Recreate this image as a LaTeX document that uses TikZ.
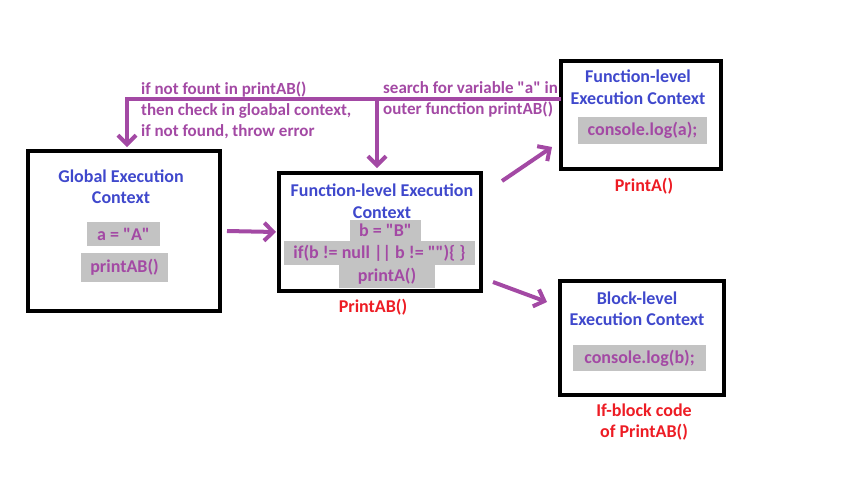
\documentclass[tikz,border=0pt]{standalone}
\usepackage{fontspec}
\newfontfamily\cf{Carlito}
\usetikzlibrary{arrows.meta,calc}
\definecolor{pp}{HTML}{A349A4}
\definecolor{bl}{HTML}{3F48CC}
\definecolor{rd}{HTML}{ED1C24}
\definecolor{gr}{HTML}{C3C3C3}
\begin{document}
\begin{tikzpicture}[x=1pt,y=-1pt,font=\cf\bfseries\fontsize{18}{21.5}\selectfont,
  ctx/.style={draw=black,line width=4.5pt,outer sep=0pt,inner sep=0pt},
  code/.style={fill=gr,text=pp,inner sep=0pt,outer sep=0pt},
  title/.style={text=bl,align=center,inner sep=0pt},
  lbl/.style={text=rd,align=center,inner sep=0pt},
  note/.style={text=pp,align=left,inner sep=0pt,anchor=west,font=\cf\bfseries\fontsize{17}{21}\selectfont},
  arr/.style={draw=pp,line width=4pt,-{Straight Barb[length=9pt,width=18pt]}}]
\useasboundingbox (0,0) rectangle (852,496);
% context boxes
\node[ctx,minimum width=192pt,minimum height=160pt] (glob) at (124,231) {};
\node[ctx,minimum width=202pt,minimum height=118pt] (mid) at (380,232) {};
\node[ctx,minimum width=160pt,minimum height=108pt] (tr) at (641,115) {};
\node[ctx,minimum width=164pt,minimum height=114pt] (br) at (642,338) {};
% titles
\node[title] (globt) at (121,186.5) {Global Execution\\Context};
\node[title] (midt) at (382,201) {Function-level Execution\\Context};
\node[title] (trt) at (638,87) {Function-level\\Execution Context};
\node[title] (brt) at (637,308.5) {Block-level\\Execution Context};
% code
\node[code,minimum width=73pt,minimum height=24pt] (ca) at (123.5,234) {a = "A"};
\node[code,minimum width=87pt,minimum height=29pt] (cpab) at (124.5,267.5) {printAB()};
\node[code,minimum width=71pt,minimum height=21pt] (cb) at (385.5,230.5) {b = "B"};
\node[code,minimum width=191pt,minimum height=24pt] (cif) at (379.5,253) {if(b != null || b != "")\{ \}};
\node[code,minimum width=96pt,minimum height=23pt] (cpa) at (387,276.5) {printA()};
\node[code,minimum width=129pt,minimum height=27pt] (cla) at (642.5,130.5) {console.log(a);};
\node[code,minimum width=133pt,minimum height=26pt] (clb) at (639.5,358) {console.log(b);};
% red labels
\node[lbl] (lmid) at (373,307) {PrintAB()};
\node[lbl] (ltr) at (644,186) {PrintA()};
\node[lbl] (lbr) at (644,422) {If-block code\\of PrintAB()};
% notes
\node[note] (n1) at (141,110) {if not fount in printAB()\\then check in gloabal context,\\if not found, throw error};
\node[note] (n2) at (383,99.5) {search for variable "a" in\\outer function printAB()};
% connectors
\coordinate (corner) at (127,99);
\coordinate (branch) at (377,99);
\draw[arr] ($(glob.east)+(7,0)$) -- ($(mid.west)+(-3,0)$);
\draw[arr] ($(mid.north east)+(21,8)$) -- ($(tr.south west)+(-9,-22)$);
\draw[arr] ($(mid.south east)+(12,-9)$) -- ($(br.north west)+(-13,21)$);
\draw[arr] (tr.west |- corner) -- (corner) -- ($(glob.north)+(3,-4)$);
\draw[arr] (branch) -- ($(mid.north)+(-3,-5)$);
\end{tikzpicture}
\end{document}
